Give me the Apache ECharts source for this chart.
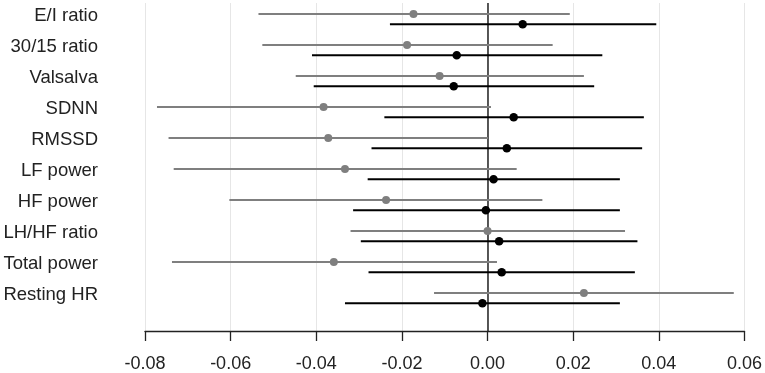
<!DOCTYPE html>
<html>
<head>
<meta charset="utf-8">
<script src="https://cdn.jsdelivr.net/npm/echarts@6/dist/echarts.min.js"></script>
<style>
  html, body { margin: 0; padding: 0; background: #fff; }
  #chart { width: 765px; height: 373px; }
</style>
</head>
<body>
<div id="chart"></div>
<script>
const categories = ['E/I ratio', '30/15 ratio', 'Valsalva', 'SDNN', 'RMSSD', 'LF power', 'HF power', 'LH/HF ratio', 'Total power', 'Resting HR'];

// gray group (upper row of each pair)
const grayLow = [-0.0535, -0.0526, -0.0448, -0.0772, -0.0745, -0.0733, -0.0603, -0.0320, -0.0737, -0.0125];
const grayEst = [-0.0173, -0.0188, -0.0112, -0.0383, -0.0372, -0.0333, -0.0237, 0.0000, -0.0359, 0.0225];
const grayHigh = [0.0192, 0.0152, 0.0225, 0.0008, 0.0001, 0.0068, 0.0128, 0.0321, 0.0022, 0.0575];

// black group (lower row of each pair)
const blackLow = [-0.0228, -0.0410, -0.0406, -0.0241, -0.0271, -0.0280, -0.0314, -0.0296, -0.0278, -0.0333];
const blackEst = [0.0082, -0.0072, -0.0079, 0.0061, 0.0045, 0.0014, -0.0004, 0.0027, 0.0033, -0.0012];
const blackHigh = [0.0394, 0.0268, 0.0249, 0.0365, 0.0361, 0.0309, 0.0309, 0.0350, 0.0344, 0.0309];

const xTicks = [-0.08, -0.06, -0.04, -0.02, 0.00, 0.02, 0.04, 0.06];

function rows(lo, est, hi, offset) {
  return categories.map(function (c, i) {
    return [lo[i], est[i], hi[i], i + offset];
  });
}

function makeRender(color, r) {
  return function (params, api) {
    const y = api.value(3);
    const a = api.coord([api.value(0), y]);
    const m = api.coord([api.value(1), y]);
    const b = api.coord([api.value(2), y]);
    return {
      type: 'group',
      children: [
        { type: 'line', shape: { x1: a[0], y1: a[1], x2: b[0], y2: b[1] }, style: { stroke: color, lineWidth: 2 } },
        { type: 'circle', shape: { cx: m[0], cy: m[1], r: r }, style: { fill: color } }
      ]
    };
  };
}

const chart = echarts.init(document.getElementById('chart'));

chart.setOption({
  animation: false,
  grid: [
    { left: 145, right: 20, top: 3, bottom: 42 },
    { left: 145, right: 20, top: 0, height: 310 }
  ],
  xAxis: [{
    gridIndex: 0,
    type: 'value',
    min: xTicks[0],
    max: xTicks[xTicks.length - 1],
    interval: 0.02,
    axisLine: { show: true, onZero: false, lineStyle: { color: '#222', width: 1.3 } },
    axisTick: { show: true, length: 10, lineStyle: { color: '#222', width: 1.3 } },
    axisLabel: {
      margin: 24, fontSize: 18, color: '#222', fontFamily: 'Liberation Sans',
      formatter: function (v) { return v.toFixed(2); }
    },
    splitLine: { show: true, lineStyle: { color: '#e6e6e6', width: 1 } }
  }, {
    gridIndex: 1,
    type: 'value',
    show: false,
    min: -1, max: 1
  }],
  yAxis: [{
    gridIndex: 0,
    type: 'value',
    inverse: true,
    min: -0.355,
    max: 10.226,
    show: false
  }, {
    gridIndex: 1,
    type: 'category',
    inverse: true,
    data: categories,
    axisLine: { show: false },
    axisTick: { show: false },
    splitLine: { show: false },
    axisLabel: { margin: 47, fontSize: 18.5, color: '#222', fontFamily: 'Liberation Sans' }
  }],
  series: [{
    type: 'custom',
    xAxisIndex: 0,
    yAxisIndex: 0,
    renderItem: makeRender('#7f7f7f', 4),
    encode: { x: [0, 1, 2], y: 3 },
    data: rows(grayLow, grayEst, grayHigh, 0),
    z: 3,
    markLine: {
      silent: true,
      symbol: 'none',
      label: { show: false },
      lineStyle: { color: '#222', width: 1.5, type: 'solid' },
      data: [{ xAxis: 0 }],
      z: 2
    }
  }, {
    type: 'custom',
    xAxisIndex: 0,
    yAxisIndex: 0,
    renderItem: makeRender('#000', 4.3),
    encode: { x: [0, 1, 2], y: 3 },
    data: rows(blackLow, blackEst, blackHigh, 0.332),
    z: 4
  }]
});
</script>
</body>
</html>
